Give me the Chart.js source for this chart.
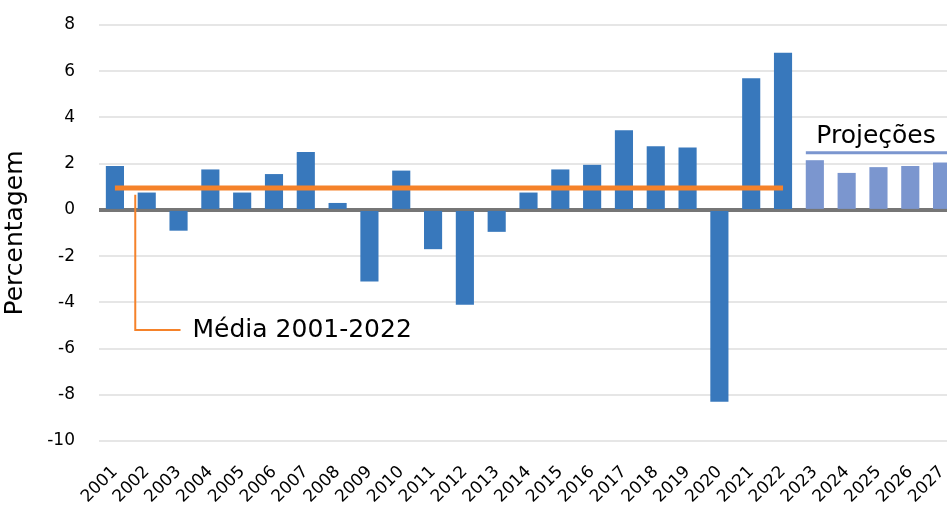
<!DOCTYPE html>
<html>
<head>
<meta charset="utf-8">
<script src="https://cdn.jsdelivr.net/npm/chart.js@4"></script>
<style>
html, body { margin: 0; padding: 0; overflow: hidden; background: #fff; }
#wrap { width: 958px; height: 506px; }
</style>
</head>
<body>
<div id="wrap"><canvas id="myChart"></canvas></div>
<script>
const years = ['2001','2002','2003','2004','2005','2006','2007','2008','2009','2010',
    '2011','2012','2013','2014','2015','2016','2017','2018','2019','2020',
    '2021','2022','2023','2024','2025','2026','2027'];
const values = [1.9, 0.75, -0.9, 1.75, 0.75, 1.55, 2.5, 0.3, -3.1, 1.7,
    -1.7, -4.1, -0.95, 0.75, 1.75, 1.95, 3.45, 2.75, 2.7, -8.3,
    5.7, 6.8, 2.15, 1.6, 1.85, 1.9, 2.05];
const firstProjection = 2023;
const average = 0.95; // média 2001-2022
const yTicks = [-10, -8, -6, -4, -2, 0, 2, 4, 6, 8];

const FONT = "'DejaVu Sans', sans-serif";
const BLUE = '#3878BC';
const LIGHT_BLUE = '#7B96CF';
const ORANGE = '#F5822A';

const barColors = years.map(y => +y >= firstProjection ? LIGHT_BLUE : BLUE);
const avgLine = years.map(y => +y < firstProjection ? average : null);

// zero line + text annotations
const annotations = {
    id: 'annotations',
    beforeDatasetsDraw(chart) {
        const { ctx, chartArea, scales: { y } } = chart;
        const y0 = y.getPixelForValue(0);
        ctx.save();
        ctx.strokeStyle = '#767676';
        ctx.lineWidth = 4;
        ctx.beginPath();
        ctx.moveTo(chartArea.left, y0);
        ctx.lineTo(chartArea.right, y0);
        ctx.stroke();
        ctx.restore();
    },
    afterDatasetsDraw(chart) {
        const { ctx, chartArea, scales: { x, y } } = chart;
        const step = x.getPixelForValue(1) - x.getPixelForValue(0);
        ctx.save();

        // Média connector
        const cx = x.getPixelForValue(0) + step * 0.64;
        const cy = y.getPixelForValue(-5.2);
        ctx.strokeStyle = ORANGE;
        ctx.lineWidth = 2;
        ctx.beginPath();
        ctx.moveTo(cx, y.getPixelForValue(0.65));
        ctx.lineTo(cx, cy);
        ctx.lineTo(x.getPixelForValue(2) + 2, cy);
        ctx.stroke();
        ctx.fillStyle = '#000';
        ctx.font = '25px ' + FONT;
        ctx.textAlign = 'left';
        ctx.textBaseline = 'middle';
        ctx.fillText('Média 2001-2022', x.getPixelForValue(2) + 14, cy);

        // Projeções
        const pIdx = years.indexOf(String(firstProjection));
        const px = x.getPixelForValue(pIdx) - 9;
        const py = y.getPixelForValue(2.47);
        ctx.strokeStyle = LIGHT_BLUE;
        ctx.lineWidth = 3;
        ctx.beginPath();
        ctx.moveTo(px, py);
        ctx.lineTo(chartArea.right, py);
        ctx.stroke();
        ctx.textAlign = 'center';
        ctx.textBaseline = 'alphabetic';
        ctx.fillText('Projeções', 876, py - 10);
        ctx.restore();
    }
};

new Chart(document.getElementById('myChart'), {
    data: {
        labels: years,
        datasets: [
            {
                type: 'line',
                label: 'Média 2001-2022',
                data: avgLine,
                borderColor: ORANGE,
                borderWidth: 5,
                borderCapStyle: 'butt',
                pointRadius: 0,
                fill: false,
                order: 0
            },
            {
                type: 'bar',
                label: 'Percentagem',
                data: values,
                backgroundColor: barColors,
                barPercentage: 0.57,
                categoryPercentage: 1,
                order: 1
            }
        ]
    },
    options: {
        responsive: true,
        maintainAspectRatio: false,
        animation: false,
        layout: { padding: { top: 25, right: 0, left: 0, bottom: 0 } },
        plugins: {
            legend: { display: false },
            tooltip: { enabled: false }
        },
        scales: {
            x: {
                grid: { display: false, drawTicks: false },
                border: { display: false },
                ticks: {
                    color: '#000',
                    font: { family: FONT, size: 17 },
                    minRotation: 45,
                    maxRotation: 45,
                    autoSkip: false,
                    padding: 21
                },
                afterFit(scale) { scale.height = 65; scale.paddingRight = 0; }
            },
            y: {
                min: -10,
                max: 8,
                afterBuildTicks(scale) { scale.ticks = yTicks.map(v => ({ value: v })); },
                grid: {
                    drawTicks: false,
                    color: ctx => ctx.tick && ctx.tick.value === 0 ? 'rgba(0,0,0,0)' : '#e6e6e6',
                    lineWidth: 2
                },
                border: { display: false },
                ticks: {
                    color: '#000',
                    font: { family: FONT, size: 17 },
                    padding: 24
                },
                title: {
                    display: true,
                    text: 'Percentagem',
                    color: '#000',
                    font: { family: FONT, size: 25 },
                    padding: 0
                },
                afterFit(scale) { scale.width = 99; scale.paddingTop = 0; scale.paddingBottom = 0; }
            }
        }
    },
    plugins: [annotations]
});
</script>
</body>
</html>
